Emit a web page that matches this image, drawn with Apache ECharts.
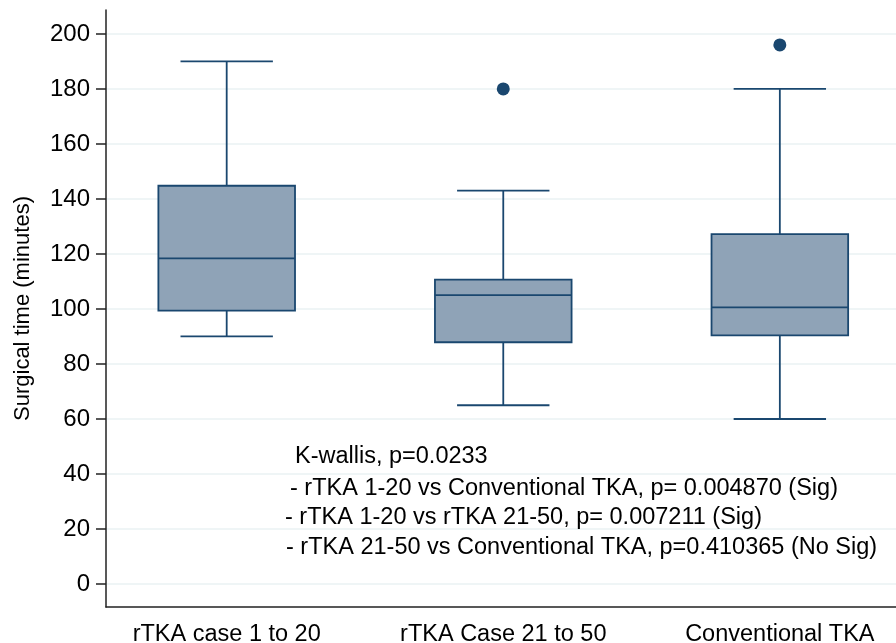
<!DOCTYPE html>
<html><head><meta charset="utf-8">
<script src="https://cdn.jsdelivr.net/npm/echarts@6/dist/echarts.min.js"></script>
<style>html,body{margin:0;padding:0;background:#fff}#c{width:896px;height:643px}</style>
</head><body><div id="c"></div>
<script>
// ---- data ----
const categories = ['rTKA case 1 to 20', 'rTKA Case 21 to 50', 'Conventional TKA'];
const whiskerLow = [90, 65, 60];
const q1 = [99.4, 87.9, 90.4];
const median = [118.4, 105, 100.6];
const q3 = [144.8, 110.7, 127.2];
const whiskerHigh = [190, 143, 180];
const outlierGroup = [1, 2];
const outlierValue = [180, 196];
const yTicks = [0, 20, 40, 60, 80, 100, 120, 140, 160, 180, 200];
const annotationLines = [
  'K-wallis, p=0.0233',
  '- rTKA 1-20 vs Conventional TKA, p= 0.004870 (Sig)',
  '- rTKA 1-20 vs rTKA 21-50, p= 0.007211 (Sig)',
  '- rTKA 21-50 vs Conventional TKA, p=0.410365 (No Sig)'
];

// ---- style ----
const NAVY = '#1a476f';
const FILL = '#8fa3b7';
const FONT = '"Liberation Sans", Arial, sans-serif';
const BOX_W = 0.494, CAP_W = 0.334, LW = 1.8;
const annPos = [[295, 457], [290, 489], [285, 518], [286, 548]];

const boxData = categories.map((c, i) => [i, whiskerLow[i], q1[i], median[i], q3[i], whiskerHigh[i]]);
const outlierData = outlierGroup.map((g, i) => [g, outlierValue[i]]);

function renderBox(params, api) {
  const x = api.value(0);
  const lo = api.coord([x, api.value(1)]);
  const b1 = api.coord([x, api.value(2)]);
  const md = api.coord([x, api.value(3)]);
  const b3 = api.coord([x, api.value(4)]);
  const hi = api.coord([x, api.value(5)]);
  const bw = api.size([BOX_W, 0])[0];
  const cw = api.size([CAP_W, 0])[0];
  const cx = lo[0];
  const ls = { stroke: NAVY, lineWidth: LW, fill: null };
  return {
    type: 'group',
    children: [
      { type: 'line', shape: { x1: cx, y1: hi[1], x2: cx, y2: b3[1] }, style: ls },
      { type: 'line', shape: { x1: cx, y1: b1[1], x2: cx, y2: lo[1] }, style: ls },
      { type: 'line', shape: { x1: cx - cw / 2, y1: hi[1], x2: cx + cw / 2, y2: hi[1] }, style: ls },
      { type: 'line', shape: { x1: cx - cw / 2, y1: lo[1], x2: cx + cw / 2, y2: lo[1] }, style: ls },
      { type: 'rect', shape: { x: cx - bw / 2, y: b3[1], width: bw, height: b1[1] - b3[1] },
        style: { fill: FILL, stroke: NAVY, lineWidth: LW } },
      { type: 'line', shape: { x1: cx - bw / 2, y1: md[1], x2: cx + bw / 2, y2: md[1] }, style: ls }
    ]
  };
}

const chart = echarts.init(document.getElementById('c'), null, { renderer: 'canvas' });
chart.setOption({
  animation: false,
  backgroundColor: '#fff',
  grid: { left: 106, right: 0, top: 10, bottom: 36, containLabel: false, outerBoundsMode: 'none' },
  xAxis: {
    type: 'value', min: -0.4364, max: 2.42,
    axisLine: { show: true, onZero: false, lineStyle: { color: '#222', width: 1.5 } },
    axisTick: { show: false },
    splitLine: { show: false },
    axisLabel: {
      customValues: [0, 1, 2],
      formatter: v => categories[Math.round(v)],
      fontSize: 23.5, fontFamily: FONT, color: '#000', margin: 16
    }
  },
  yAxis: {
    type: 'value', min: -8.36, max: 208.7,
    name: 'Surgical time (minutes)', nameLocation: 'middle', nameGap: 72, nameRotate: 90,
    nameTextStyle: { fontSize: 22, fontFamily: FONT, color: '#000' },
    axisLine: { show: true, onZero: false, lineStyle: { color: '#222', width: 1.5 } },
    axisTick: { show: true, customValues: yTicks, length: 10, lineStyle: { color: '#222', width: 1.5 } },
    splitLine: { show: true, lineStyle: { color: '#eaf2f3', width: 1.5 } },
    axisLabel: { customValues: yTicks, fontSize: 24, fontFamily: FONT, color: '#000', margin: 16 }
  },
  series: [
    { type: 'custom', name: 'Surgical time', renderItem: renderBox, data: boxData,
      encode: { x: 0, y: [1, 2, 3, 4, 5] }, z: 2 },
    { type: 'scatter', name: 'Outliers', data: outlierData, symbol: 'circle', symbolSize: 13,
      itemStyle: { color: NAVY, opacity: 1 }, z: 3 }
  ],
  graphic: annotationLines.map((t, i) => ({
    type: 'text', x: annPos[i][0], y: annPos[i][1], z: 10,
    style: { text: t, fontSize: 23.5, fontFamily: FONT, fill: '#000', verticalAlign: 'middle', align: 'left' }
  }))
});
</script>
</body></html>
